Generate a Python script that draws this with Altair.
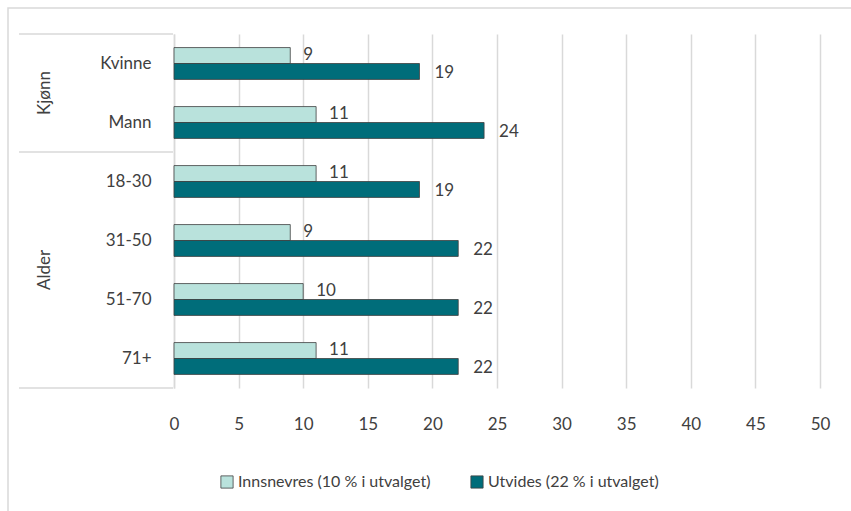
import altair as alt
import pandas as pd

categories = ["Kvinne", "Mann", "18-30", "31-50", "51-70", "71+"]
series = ["Innsnevres (10 % i utvalget)", "Utvides (22 % i utvalget)"]
innsnevres = [9, 11, 11, 9, 10, 11]
utvides = [19, 24, 19, 22, 22, 22]
x_ticks = [0, 5, 10, 15, 20, 25, 30, 35, 40, 45, 50]
groups = ["Kjønn", "Alder"]

rows = []
for c, a, b in zip(categories, innsnevres, utvides):
    rows.append({"cat": c, "serie": series[0], "value": a})
    rows.append({"cat": c, "serie": series[1], "value": b})
df = pd.DataFrame(rows)

FONT = "Lato"
TXT = "#404040"
GRID = "#d9d9d9"

y_enc = alt.Y("cat:N", sort=categories,
              scale=alt.Scale(paddingInner=0.46, paddingOuter=0.23),
              axis=alt.Axis(title=None, ticks=False, labelPadding=23, labelFont=FONT,
                            labelFontSize=17, labelColor=TXT, domainColor=GRID,
                            domainWidth=1.5))
yoff = alt.YOffset("serie:N", sort=series, scale=alt.Scale(paddingInner=0, paddingOuter=0))
x_enc = alt.X("value:Q", scale=alt.Scale(domain=[0, 50], nice=False),
              axis=alt.Axis(title=None, values=x_ticks, ticks=False, domain=False,
                            labelFlush=False, labelOverlap=False,
                            gridColor=GRID, gridWidth=1.5, labelPadding=28,
                            labelFont=FONT, labelFontSize=17, labelColor=TXT))

color = alt.Color("serie:N", sort=series,
                  scale=alt.Scale(domain=series, range=["#b9e2dc", "#006d7a"]),
                  legend=alt.Legend(title=None, orient="none", direction="horizontal",
                                    legendX=45, legendY=440, symbolType="square",
                                    symbolSize=150, symbolStrokeColor="#404040",
                                    symbolStrokeWidth=0.8, labelFont=FONT,
                                    labelFontSize=16, labelColor=TXT, labelOffset=3,
                                    columnPadding=38, labelLimit=400))

base = alt.Chart(df)

one = pd.DataFrame({"k": [0]})

border = alt.Chart(one).mark_rect(
    fill=None, stroke=GRID, strokeWidth=1.5).encode(
    x=alt.value(-166), x2=alt.value(700), y=alt.value(-26), y2=alt.value(520))

bars = base.mark_bar(stroke="#404040", strokeWidth=0.8).encode(
    y=y_enc, yOffset=yoff, x=x_enc, color=color)


def value_labels(serie, dx, dy):
    return base.transform_filter(alt.datum.serie == serie).mark_text(
        align="left", baseline="middle", dx=dx, dy=dy, font=FONT,
        fontSize=17, color=TXT).encode(
        y=alt.Y("cat:N", sort=categories),
        yOffset=alt.YOffset("serie:N", sort=series),
        x="value:Q", text="value:Q")


def sep(ypix):
    return alt.Chart(one).mark_rule(color=GRID, strokeWidth=1.5).encode(
        x=alt.value(-155), x2=alt.value(-1), y=alt.value(ypix))


def grp_label(name, ypix):
    return alt.Chart(pd.DataFrame({"g": [name]})).mark_text(
        angle=270, font=FONT, fontSize=17, color=TXT,
        align="center", baseline="middle").encode(
        x=alt.value(-129), y=alt.value(ypix), text="g:N")


chart = alt.layer(
    border, bars,
    value_labels(series[0], 13, -1), value_labels(series[1], 15, 2),
    sep(0), sep(118), sep(354),
    grp_label(groups[0], 59), grp_label(groups[1], 236),
).properties(
    width=646, height=354,
    padding={"left": 174, "top": 34, "right": 31, "bottom": 123},
    autosize=alt.AutoSizeParams(type="none"),
    background="white",
).configure_view(stroke=None)

chart.save("out.html", embed_options={"renderer": "svg", "actions": False})
